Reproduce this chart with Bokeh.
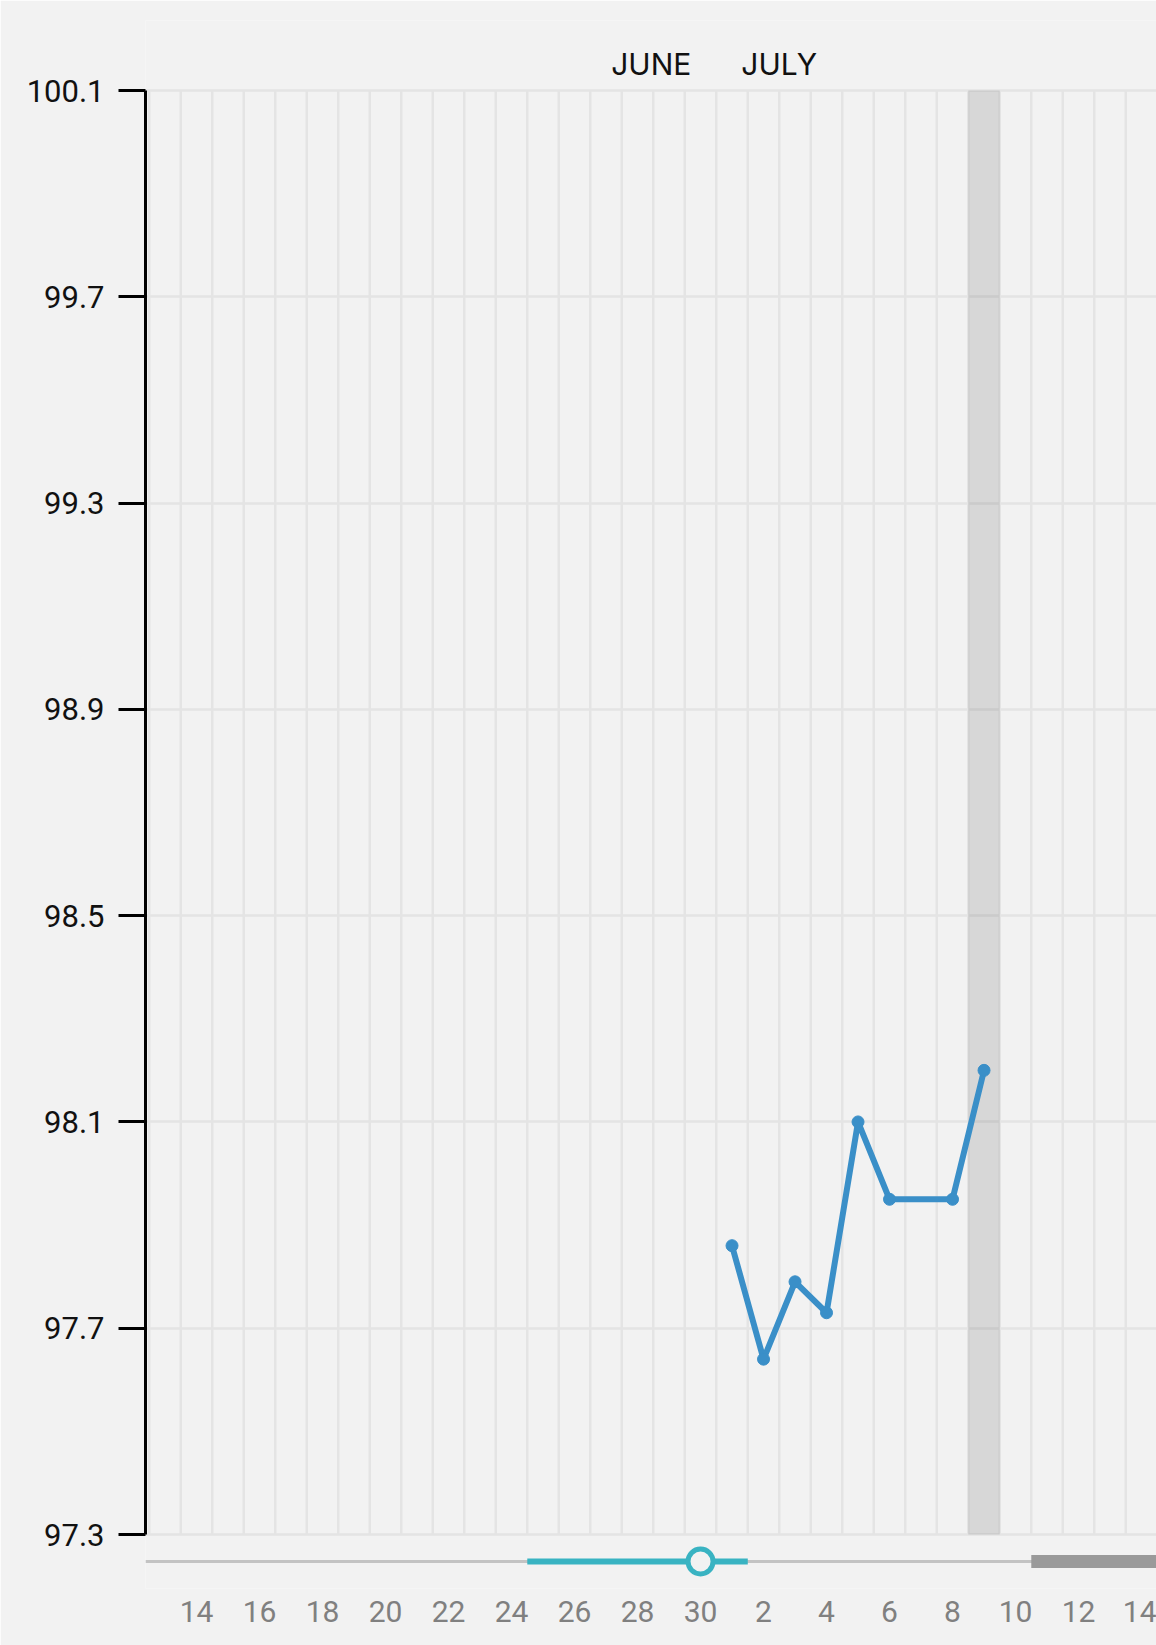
import pandas as pd
from bokeh.plotting import figure
from bokeh.models import Range1d, FixedTicker, PrintfTickFormatter
from bokeh.core.properties import value
from bokeh.embed import file_html
from bokeh.resources import INLINE

# ---------------- data ----------------
YEAR = "2024"
temp_dates = ["07-01", "07-02", "07-03", "07-04", "07-05", "07-06", "07-08", "07-09"]
temps = [97.86, 97.64, 97.79, 97.73, 98.10, 97.95, 97.95, 98.20]

y_ticks = [97.3, 97.7, 98.1, 98.5, 98.9, 99.3, 99.7, 100.1]

x_tick_dates = ["06-14", "06-16", "06-18", "06-20", "06-22", "06-24", "06-26", "06-28",
                "06-30", "07-02", "07-04", "07-06", "07-08", "07-10", "07-12", "07-14"]
x_tick_labels = ["14", "16", "18", "20", "22", "24", "26", "28",
                 "30", "2", "4", "6", "8", "10", "12", "14"]

month_names = ["JUNE", "JULY"]
month_start = "07-01"          # first day of the second month
today = "07-09"                # highlighted column
period_range = ("06-25", "07-01")   # teal part of the slider track
selected_date = "06-30"        # slider knob
future_start = "07-11"         # dark grey part of the slider track
first_visible = "06-13"
last_visible = "07-14"

# ---------------- helpers ----------------
BASE = pd.Timestamp(f"{YEAR}-06-14")


def day(d):
    return (pd.Timestamp(f"{YEAR}-{d}") - BASE).days


FONT = "Roboto"
MONTH_FONT = "Inter"
BG = "#f2f2f2"
GRID = "#e4e4e4"
BLUE = "#3a8fc8"
TEAL = "#39b3c2"

W, H = 1156, 1645
LEFT = 145            # left edge of the plotting area
TEMP_TOP = 90         # page y of the top temperature tick
TEMP_BOT = 1534       # page y of the bottom temperature tick
FRAME_TOP = 20
FRAME_BOT = 1588
TRACK_Y = 1561        # page y of the slider track
MONTH_Y = 63          # page y of the month labels
PX_PER_DAY = 31.5

t_lo, t_hi = min(y_ticks), max(y_ticks)
px_per_deg = (TEMP_BOT - TEMP_TOP) / (t_hi - t_lo)

x_start = day(first_visible) - 0.62
x_end = x_start + (W - LEFT) / PX_PER_DAY
y_start = t_lo - (FRAME_BOT - TEMP_BOT) / px_per_deg
y_end = t_hi + (TEMP_TOP - FRAME_TOP) / px_per_deg

p = figure(width=W, height=H, output_backend="svg", toolbar_location=None,
           x_range=Range1d(x_start, x_end), y_range=Range1d(y_start, y_end),
           min_border_left=LEFT, min_border_top=FRAME_TOP,
           min_border_bottom=H - FRAME_BOT, min_border_right=0)
p.extra_y_ranges = {"track": Range1d(-(FRAME_BOT - TRACK_Y), TRACK_Y - FRAME_TOP)}

p.background_fill_color = BG
p.border_fill_color = BG
p.outline_line_color = None

# vertical day grid (at day boundaries)
bounds_x = [d + 0.5 for d in range(day(first_visible) - 1, day(last_visible) + 1)]
p.segment(x0=bounds_x, x1=bounds_x, y0=[t_lo] * len(bounds_x), y1=[t_hi] * len(bounds_x),
          line_color=GRID, line_width=2.5)

# today band
p.quad(left=[day(today) - 0.5], right=[day(today) + 0.5], bottom=[t_lo], top=[t_hi],
       fill_color="black", fill_alpha=0.11, line_color=None)

# temperature series
xs = [day(d) for d in temp_dates]
p.line(xs, temps, line_color=BLUE, line_width=6, line_join="round")
p.scatter(xs, temps, size=12, color=BLUE)

# slider track
p.segment(x0=[x_start], x1=[x_end], y0=[0], y1=[0], y_range_name="track",
          line_color="#c3c3c3", line_width=3)
p.segment(x0=[day(period_range[0]) - 0.5], x1=[day(period_range[1]) + 0.5], y0=[0], y1=[0],
          y_range_name="track", line_color=TEAL, line_width=6)
p.segment(x0=[day(future_start) - 0.5], x1=[x_end + 1], y0=[0], y1=[0],
          y_range_name="track", line_color="#9a9a9a", line_width=13)
p.scatter([day(selected_date)], [0], y_range_name="track", size=25,
          fill_color=BG, line_color=TEAL, line_width=5)

# month labels (above the temperature area)
mb = day(month_start) - 0.5
month_y = t_hi + (TEMP_TOP - MONTH_Y) / px_per_deg
p.text(x=[mb], y=[month_y], text=[month_names[0]], x_offset=-25,
       text_align="right", text_baseline="middle", text_font=value(MONTH_FONT),
       text_font_size="30px", text_color="#111111")
p.text(x=[mb], y=[month_y], text=[month_names[1]], x_offset=25,
       text_align="left", text_baseline="middle", text_font=value(MONTH_FONT),
       text_font_size="30px", text_color="#111111")

# y axis
p.yaxis.ticker = FixedTicker(ticks=y_ticks)
p.yaxis.bounds = (t_lo, t_hi)
p.yaxis.formatter = PrintfTickFormatter(format="%.1f")
p.yaxis.axis_line_width = 3
p.yaxis.axis_line_color = "black"
p.yaxis.major_tick_out = 27
p.yaxis.major_tick_in = 0
p.yaxis.major_tick_line_width = 3
p.yaxis.major_tick_line_color = "black"
p.yaxis.minor_tick_line_color = None
p.yaxis.major_label_text_font = FONT
p.yaxis.major_label_text_font_size = "31px"
p.yaxis.major_label_text_color = "#111111"
p.yaxis.major_label_standoff = 14

p.ygrid.grid_line_color = GRID
p.ygrid.grid_line_width = 2.5
p.xgrid.visible = False

# x axis (day numbers)
tick_pos = [day(d) for d in x_tick_dates]
p.xaxis.ticker = FixedTicker(ticks=tick_pos)
p.xaxis.major_label_overrides = {pos: lbl for pos, lbl in zip(tick_pos, x_tick_labels)}
p.xaxis.axis_line_color = None
p.xaxis.major_tick_line_color = None
p.xaxis.minor_tick_line_color = None
p.xaxis.major_tick_out = 0
p.xaxis.major_tick_in = 0
p.xaxis.major_label_standoff = 12
p.xaxis.major_label_text_font = FONT
p.xaxis.major_label_text_font_size = "30px"
p.xaxis.major_label_text_color = "#808080"

html = file_html(p, INLINE)
html = html.replace("<body>", '<body style="background-color:#f2f2f2;">', 1)
open("out.html", "w").write(html)
